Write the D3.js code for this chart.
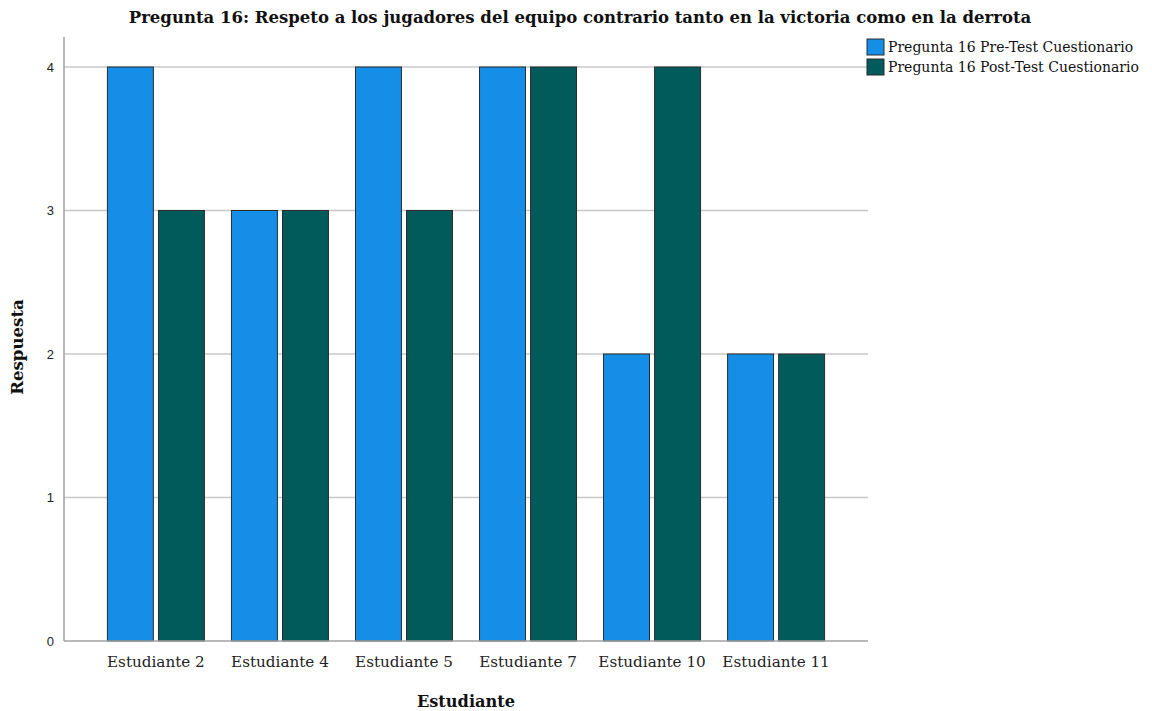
<!DOCTYPE html>
<html><head><meta charset="utf-8">
<script src="https://cdn.jsdelivr.net/npm/d3@7"></script>
<style>body{margin:0;background:#fff}svg{display:block}</style>
</head><body>
<svg id="c" width="1152" height="711"></svg>
<script>
const categories = ["Estudiante 2","Estudiante 4","Estudiante 5","Estudiante 7","Estudiante 10","Estudiante 11"];
const seriesNames = ["Pregunta 16 Pre-Test Cuestionario","Pregunta 16 Post-Test Cuestionario"];
const preValues = [4,3,4,4,2,2];
const postValues = [3,3,3,4,4,2];
const yTicks = [0,1,2,3,4];
const colors = ["#148ee6","#005b5a"];

(function(){
const svg = d3.select("#c");
const serif = "'DejaVu Serif',serif";
const pLeft = 64, pRight = 868, pTop = 37, pBottom = 641;

const x = d3.scaleBand().domain(categories).range([pLeft,pRight]).paddingInner(0.218).paddingOuter(0.35);
const xs = d3.scaleBand().domain([0,1]).range([0,x.bandwidth()]).paddingInner(0.1);
const y = d3.scaleLinear().domain([0,4]).range([pBottom,67]);

// grid
svg.append("g").selectAll("line").data(yTicks.filter(d=>d>0)).join("line")
  .attr("x1",pLeft).attr("x2",pRight).attr("y1",d=>y(d)).attr("y2",d=>y(d))
  .attr("stroke","#c8c8c8").attr("stroke-width",1.5);

// bars
const data = [preValues, postValues];
const g = svg.append("g");
categories.forEach((c,i)=>{
  data.forEach((vals,s)=>{
    g.append("rect")
      .attr("x",x(c)+xs(s)).attr("width",xs.bandwidth())
      .attr("y",y(vals[i])).attr("height",y(0)-y(vals[i]))
      .attr("fill",colors[s]).attr("stroke","#2b2b2b").attr("stroke-width",1);
  });
});

// axes lines
svg.append("line").attr("x1",pLeft).attr("x2",pLeft).attr("y1",pTop).attr("y2",pBottom).attr("stroke","#a0a0a0").attr("stroke-width",1.5);
svg.append("line").attr("x1",pLeft).attr("x2",pRight).attr("y1",pBottom).attr("y2",pBottom).attr("stroke","#a0a0a0").attr("stroke-width",1.5);

// y tick labels
svg.append("g").selectAll("text").data(yTicks).join("text")
  .attr("x",54).attr("y",d=>y(d)+4.5).attr("text-anchor","end")
  .attr("font-family","'Liberation Sans',Arial,sans-serif").attr("font-size",13).attr("fill","#222")
  .text(d=>d);

// x labels
svg.append("g").selectAll("text").data(categories).join("text")
  .attr("x",d=>x(d)+x.bandwidth()/2).attr("y",667).attr("text-anchor","middle")
  .attr("font-family",serif).attr("font-size",15.2).attr("fill","#222")
  .text(d=>d);

// titles
svg.append("text").attr("x",580).attr("y",23).attr("text-anchor","middle")
  .attr("font-family",serif).attr("font-weight","bold").attr("font-size",16.5).attr("fill","#111")
  .text("Pregunta 16: Respeto a los jugadores del equipo contrario tanto en la victoria como en la derrota");
svg.append("text").attr("x",466).attr("y",707).attr("text-anchor","middle")
  .attr("font-family",serif).attr("font-weight","bold").attr("font-size",16.2).attr("fill","#111")
  .text("Estudiante");
svg.append("text").attr("transform","translate(23,347) rotate(-90)").attr("text-anchor","middle")
  .attr("font-family",serif).attr("font-weight","bold").attr("font-size",16.6).attr("fill","#111")
  .text("Respuesta");

// legend
const lg = svg.append("g");
seriesNames.forEach((n,i)=>{
  lg.append("rect").attr("x",867).attr("y",39+i*20).attr("width",17).attr("height",16)
    .attr("fill",colors[i]).attr("stroke","#2b2b2b").attr("stroke-width",1);
  lg.append("text").attr("x",888).attr("y",52+i*20)
    .attr("font-family",serif).attr("font-size",14).attr("fill","#111").text(n);
});
})();
</script>
</body></html>
